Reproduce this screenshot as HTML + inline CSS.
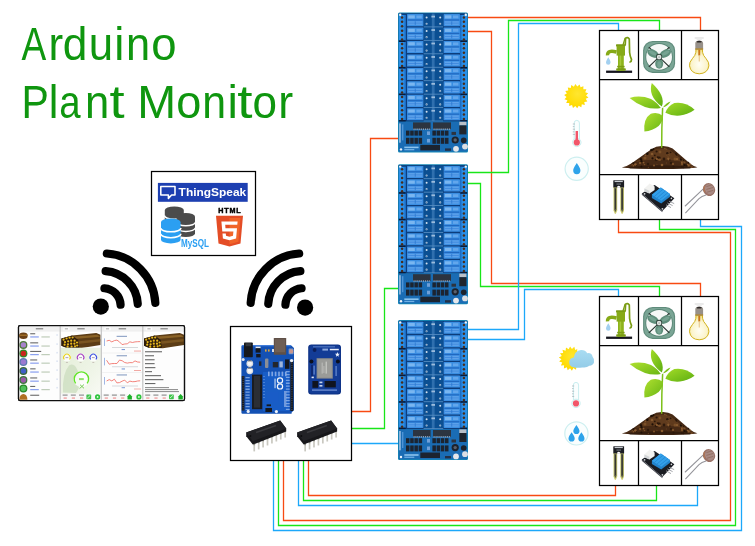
<!DOCTYPE html><html><head><meta charset="utf-8"><title>Arduino Plant Monitor</title><style>html,body{margin:0;padding:0;background:#fff;}body{width:755px;height:546px;overflow:hidden;font-family:"Liberation Sans",sans-serif;}svg{display:block}</style></head><body><svg width="755" height="546" viewBox="0 0 755 546"><defs><radialGradient id="bulbg" cx="0.5" cy="0.62" r="0.6"><stop offset="0" stop-color="#fffef4"/><stop offset="0.65" stop-color="#fbf4cc"/><stop offset="1" stop-color="#f0de7e"/></radialGradient><linearGradient id="leafg" x1="0" y1="0" x2="1" y2="1"><stop offset="0" stop-color="#a4dc28"/><stop offset="1" stop-color="#5cae10"/></linearGradient><linearGradient id="leafg2" x1="0" y1="0" x2="1" y2="1"><stop offset="0" stop-color="#b0e030"/><stop offset="1" stop-color="#68b614"/></linearGradient><radialGradient id="sung" cx="0.55" cy="0.4" r="0.7"><stop offset="0" stop-color="#ffe630"/><stop offset="0.7" stop-color="#ffdc04"/><stop offset="1" stop-color="#f8cc00"/></radialGradient><linearGradient id="cloudg" x1="0" y1="0" x2="0" y2="1"><stop offset="0" stop-color="#a8dcf2"/><stop offset="1" stop-color="#94cce8"/></linearGradient><linearGradient id="pg" x1="0" y1="0" x2="1" y2="1"><stop offset="0" stop-color="#e4eed8"/><stop offset="0.6" stop-color="#eef4e6"/><stop offset="1" stop-color="#f8faf4"/></linearGradient><filter id="soft" x="-2%" y="-2%" width="104%" height="104%"><feGaussianBlur stdDeviation="0.28"/></filter><g id="relay"><rect x="0" y="0" width="70" height="140" rx="1.5" fill="#1688b4"/><rect x="0.8" y="0.9" width="68.4" height="108.4" fill="#0c3d7c"/><rect x="25.6" y="1.2" width="19.6" height="107.6" fill="#0b4f92"/><rect x="33.8" y="1.2" width="2.8" height="107.6" fill="#2f6fae"/><rect x="0.9" y="2.6" width="6.8" height="105" fill="#2a8fe8"/><rect x="6.5" y="2.6" width="1.2" height="105" fill="#1c6cc4"/><rect x="0.9" y="27.9" width="6.8" height="1.7" fill="#081c3c"/><rect x="0.9" y="54.5" width="6.8" height="1.7" fill="#081c3c"/><rect x="0.9" y="81.1" width="6.8" height="1.7" fill="#081c3c"/><rect x="0.9" y="107.7" width="6.8" height="1.7" fill="#081c3c"/><circle cx="4.1000000000000005" cy="5.0" r="1.25" fill="#4a2c1a"/><circle cx="4.1000000000000005" cy="9.4" r="1.25" fill="#4a2c1a"/><circle cx="4.1000000000000005" cy="13.8" r="1.25" fill="#4a2c1a"/><circle cx="4.1000000000000005" cy="18.3" r="1.25" fill="#4a2c1a"/><circle cx="4.1000000000000005" cy="22.7" r="1.25" fill="#4a2c1a"/><circle cx="4.1000000000000005" cy="27.1" r="1.25" fill="#4a2c1a"/><circle cx="4.1000000000000005" cy="31.5" r="1.25" fill="#4a2c1a"/><circle cx="4.1000000000000005" cy="35.9" r="1.25" fill="#4a2c1a"/><circle cx="4.1000000000000005" cy="40.4" r="1.25" fill="#4a2c1a"/><circle cx="4.1000000000000005" cy="44.8" r="1.25" fill="#4a2c1a"/><circle cx="4.1000000000000005" cy="49.2" r="1.25" fill="#4a2c1a"/><circle cx="4.1000000000000005" cy="53.6" r="1.25" fill="#4a2c1a"/><circle cx="4.1000000000000005" cy="58.0" r="1.25" fill="#4a2c1a"/><circle cx="4.1000000000000005" cy="62.5" r="1.25" fill="#4a2c1a"/><circle cx="4.1000000000000005" cy="66.9" r="1.25" fill="#4a2c1a"/><circle cx="4.1000000000000005" cy="71.3" r="1.25" fill="#4a2c1a"/><circle cx="4.1000000000000005" cy="75.7" r="1.25" fill="#4a2c1a"/><circle cx="4.1000000000000005" cy="80.1" r="1.25" fill="#4a2c1a"/><circle cx="4.1000000000000005" cy="84.6" r="1.25" fill="#4a2c1a"/><circle cx="4.1000000000000005" cy="89.0" r="1.25" fill="#4a2c1a"/><circle cx="4.1000000000000005" cy="93.4" r="1.25" fill="#4a2c1a"/><circle cx="4.1000000000000005" cy="97.8" r="1.25" fill="#4a2c1a"/><circle cx="4.1000000000000005" cy="102.2" r="1.25" fill="#4a2c1a"/><circle cx="4.1000000000000005" cy="106.7" r="1.25" fill="#4a2c1a"/><rect x="62.3" y="2.6" width="6.8" height="105" fill="#2a8fe8"/><rect x="62.3" y="2.6" width="1.2" height="105" fill="#1c6cc4"/><rect x="62.3" y="27.9" width="6.8" height="1.7" fill="#081c3c"/><rect x="62.3" y="54.5" width="6.8" height="1.7" fill="#081c3c"/><rect x="62.3" y="81.1" width="6.8" height="1.7" fill="#081c3c"/><rect x="62.3" y="107.7" width="6.8" height="1.7" fill="#081c3c"/><circle cx="65.89999999999999" cy="5.0" r="1.25" fill="#4a2c1a"/><circle cx="65.89999999999999" cy="9.4" r="1.25" fill="#4a2c1a"/><circle cx="65.89999999999999" cy="13.8" r="1.25" fill="#4a2c1a"/><circle cx="65.89999999999999" cy="18.3" r="1.25" fill="#4a2c1a"/><circle cx="65.89999999999999" cy="22.7" r="1.25" fill="#4a2c1a"/><circle cx="65.89999999999999" cy="27.1" r="1.25" fill="#4a2c1a"/><circle cx="65.89999999999999" cy="31.5" r="1.25" fill="#4a2c1a"/><circle cx="65.89999999999999" cy="35.9" r="1.25" fill="#4a2c1a"/><circle cx="65.89999999999999" cy="40.4" r="1.25" fill="#4a2c1a"/><circle cx="65.89999999999999" cy="44.8" r="1.25" fill="#4a2c1a"/><circle cx="65.89999999999999" cy="49.2" r="1.25" fill="#4a2c1a"/><circle cx="65.89999999999999" cy="53.6" r="1.25" fill="#4a2c1a"/><circle cx="65.89999999999999" cy="58.0" r="1.25" fill="#4a2c1a"/><circle cx="65.89999999999999" cy="62.5" r="1.25" fill="#4a2c1a"/><circle cx="65.89999999999999" cy="66.9" r="1.25" fill="#4a2c1a"/><circle cx="65.89999999999999" cy="71.3" r="1.25" fill="#4a2c1a"/><circle cx="65.89999999999999" cy="75.7" r="1.25" fill="#4a2c1a"/><circle cx="65.89999999999999" cy="80.1" r="1.25" fill="#4a2c1a"/><circle cx="65.89999999999999" cy="84.6" r="1.25" fill="#4a2c1a"/><circle cx="65.89999999999999" cy="89.0" r="1.25" fill="#4a2c1a"/><circle cx="65.89999999999999" cy="93.4" r="1.25" fill="#4a2c1a"/><circle cx="65.89999999999999" cy="97.8" r="1.25" fill="#4a2c1a"/><circle cx="65.89999999999999" cy="102.2" r="1.25" fill="#4a2c1a"/><circle cx="65.89999999999999" cy="106.7" r="1.25" fill="#4a2c1a"/><rect x="9" y="1.70" width="16.4" height="12.1" rx="0.6" fill="#3a8ee2"/><rect x="9.6" y="7.00" width="15.2" height="1.2" fill="#2068c0"/><rect x="10.2" y="8.90" width="14" height="3.6" fill="#5ea2ea"/><rect x="10.2" y="10.30" width="14" height="0.8" fill="#3a86dc"/><rect x="10.2" y="2.90" width="6.6" height="3.2" fill="#7ab6f0"/><rect x="18.4" y="3.10" width="5.4" height="2.8" fill="#62a6ec"/><rect x="16.8" y="8.90" width="0.8" height="3.6" fill="#2a78d0"/><rect x="9" y="15.15" width="16.4" height="12.1" rx="0.6" fill="#3a8ee2"/><rect x="9.6" y="20.45" width="15.2" height="1.2" fill="#2068c0"/><rect x="10.2" y="22.35" width="14" height="3.6" fill="#5ea2ea"/><rect x="10.2" y="23.75" width="14" height="0.8" fill="#3a86dc"/><rect x="10.2" y="16.35" width="6.6" height="3.2" fill="#7ab6f0"/><rect x="18.4" y="16.55" width="5.4" height="2.8" fill="#62a6ec"/><rect x="16.8" y="22.35" width="0.8" height="3.6" fill="#2a78d0"/><rect x="9" y="28.60" width="16.4" height="12.1" rx="0.6" fill="#3a8ee2"/><rect x="9.6" y="33.90" width="15.2" height="1.2" fill="#2068c0"/><rect x="10.2" y="35.80" width="14" height="3.6" fill="#5ea2ea"/><rect x="10.2" y="37.20" width="14" height="0.8" fill="#3a86dc"/><rect x="10.2" y="29.80" width="6.6" height="3.2" fill="#7ab6f0"/><rect x="18.4" y="30.00" width="5.4" height="2.8" fill="#62a6ec"/><rect x="16.8" y="35.80" width="0.8" height="3.6" fill="#2a78d0"/><rect x="9" y="42.05" width="16.4" height="12.1" rx="0.6" fill="#3a8ee2"/><rect x="9.6" y="47.35" width="15.2" height="1.2" fill="#2068c0"/><rect x="10.2" y="49.25" width="14" height="3.6" fill="#5ea2ea"/><rect x="10.2" y="50.65" width="14" height="0.8" fill="#3a86dc"/><rect x="10.2" y="43.25" width="6.6" height="3.2" fill="#7ab6f0"/><rect x="18.4" y="43.45" width="5.4" height="2.8" fill="#62a6ec"/><rect x="16.8" y="49.25" width="0.8" height="3.6" fill="#2a78d0"/><rect x="9" y="55.50" width="16.4" height="12.1" rx="0.6" fill="#3a8ee2"/><rect x="9.6" y="60.80" width="15.2" height="1.2" fill="#2068c0"/><rect x="10.2" y="62.70" width="14" height="3.6" fill="#5ea2ea"/><rect x="10.2" y="64.10" width="14" height="0.8" fill="#3a86dc"/><rect x="10.2" y="56.70" width="6.6" height="3.2" fill="#7ab6f0"/><rect x="18.4" y="56.90" width="5.4" height="2.8" fill="#62a6ec"/><rect x="16.8" y="62.70" width="0.8" height="3.6" fill="#2a78d0"/><rect x="9" y="68.95" width="16.4" height="12.1" rx="0.6" fill="#3a8ee2"/><rect x="9.6" y="74.25" width="15.2" height="1.2" fill="#2068c0"/><rect x="10.2" y="76.15" width="14" height="3.6" fill="#5ea2ea"/><rect x="10.2" y="77.55" width="14" height="0.8" fill="#3a86dc"/><rect x="10.2" y="70.15" width="6.6" height="3.2" fill="#7ab6f0"/><rect x="18.4" y="70.35" width="5.4" height="2.8" fill="#62a6ec"/><rect x="16.8" y="76.15" width="0.8" height="3.6" fill="#2a78d0"/><rect x="9" y="82.40" width="16.4" height="12.1" rx="0.6" fill="#3a8ee2"/><rect x="9.6" y="87.70" width="15.2" height="1.2" fill="#2068c0"/><rect x="10.2" y="89.60" width="14" height="3.6" fill="#5ea2ea"/><rect x="10.2" y="91.00" width="14" height="0.8" fill="#3a86dc"/><rect x="10.2" y="83.60" width="6.6" height="3.2" fill="#7ab6f0"/><rect x="18.4" y="83.80" width="5.4" height="2.8" fill="#62a6ec"/><rect x="16.8" y="89.60" width="0.8" height="3.6" fill="#2a78d0"/><rect x="9" y="95.85" width="16.4" height="12.1" rx="0.6" fill="#3a8ee2"/><rect x="9.6" y="101.15" width="15.2" height="1.2" fill="#2068c0"/><rect x="10.2" y="103.05" width="14" height="3.6" fill="#5ea2ea"/><rect x="10.2" y="104.45" width="14" height="0.8" fill="#3a86dc"/><rect x="10.2" y="97.05" width="6.6" height="3.2" fill="#7ab6f0"/><rect x="18.4" y="97.25" width="5.4" height="2.8" fill="#62a6ec"/><rect x="16.8" y="103.05" width="0.8" height="3.6" fill="#2a78d0"/><rect x="45.6" y="1.70" width="16.4" height="12.1" rx="0.6" fill="#3a8ee2"/><rect x="46.2" y="7.00" width="15.2" height="1.2" fill="#2068c0"/><rect x="46.800000000000004" y="8.90" width="14" height="3.6" fill="#5ea2ea"/><rect x="46.800000000000004" y="10.30" width="14" height="0.8" fill="#3a86dc"/><rect x="46.800000000000004" y="2.90" width="6.6" height="3.2" fill="#7ab6f0"/><rect x="55.0" y="3.10" width="5.4" height="2.8" fill="#62a6ec"/><rect x="53.4" y="8.90" width="0.8" height="3.6" fill="#2a78d0"/><rect x="45.6" y="15.15" width="16.4" height="12.1" rx="0.6" fill="#3a8ee2"/><rect x="46.2" y="20.45" width="15.2" height="1.2" fill="#2068c0"/><rect x="46.800000000000004" y="22.35" width="14" height="3.6" fill="#5ea2ea"/><rect x="46.800000000000004" y="23.75" width="14" height="0.8" fill="#3a86dc"/><rect x="46.800000000000004" y="16.35" width="6.6" height="3.2" fill="#7ab6f0"/><rect x="55.0" y="16.55" width="5.4" height="2.8" fill="#62a6ec"/><rect x="53.4" y="22.35" width="0.8" height="3.6" fill="#2a78d0"/><rect x="45.6" y="28.60" width="16.4" height="12.1" rx="0.6" fill="#3a8ee2"/><rect x="46.2" y="33.90" width="15.2" height="1.2" fill="#2068c0"/><rect x="46.800000000000004" y="35.80" width="14" height="3.6" fill="#5ea2ea"/><rect x="46.800000000000004" y="37.20" width="14" height="0.8" fill="#3a86dc"/><rect x="46.800000000000004" y="29.80" width="6.6" height="3.2" fill="#7ab6f0"/><rect x="55.0" y="30.00" width="5.4" height="2.8" fill="#62a6ec"/><rect x="53.4" y="35.80" width="0.8" height="3.6" fill="#2a78d0"/><rect x="45.6" y="42.05" width="16.4" height="12.1" rx="0.6" fill="#3a8ee2"/><rect x="46.2" y="47.35" width="15.2" height="1.2" fill="#2068c0"/><rect x="46.800000000000004" y="49.25" width="14" height="3.6" fill="#5ea2ea"/><rect x="46.800000000000004" y="50.65" width="14" height="0.8" fill="#3a86dc"/><rect x="46.800000000000004" y="43.25" width="6.6" height="3.2" fill="#7ab6f0"/><rect x="55.0" y="43.45" width="5.4" height="2.8" fill="#62a6ec"/><rect x="53.4" y="49.25" width="0.8" height="3.6" fill="#2a78d0"/><rect x="45.6" y="55.50" width="16.4" height="12.1" rx="0.6" fill="#3a8ee2"/><rect x="46.2" y="60.80" width="15.2" height="1.2" fill="#2068c0"/><rect x="46.800000000000004" y="62.70" width="14" height="3.6" fill="#5ea2ea"/><rect x="46.800000000000004" y="64.10" width="14" height="0.8" fill="#3a86dc"/><rect x="46.800000000000004" y="56.70" width="6.6" height="3.2" fill="#7ab6f0"/><rect x="55.0" y="56.90" width="5.4" height="2.8" fill="#62a6ec"/><rect x="53.4" y="62.70" width="0.8" height="3.6" fill="#2a78d0"/><rect x="45.6" y="68.95" width="16.4" height="12.1" rx="0.6" fill="#3a8ee2"/><rect x="46.2" y="74.25" width="15.2" height="1.2" fill="#2068c0"/><rect x="46.800000000000004" y="76.15" width="14" height="3.6" fill="#5ea2ea"/><rect x="46.800000000000004" y="77.55" width="14" height="0.8" fill="#3a86dc"/><rect x="46.800000000000004" y="70.15" width="6.6" height="3.2" fill="#7ab6f0"/><rect x="55.0" y="70.35" width="5.4" height="2.8" fill="#62a6ec"/><rect x="53.4" y="76.15" width="0.8" height="3.6" fill="#2a78d0"/><rect x="45.6" y="82.40" width="16.4" height="12.1" rx="0.6" fill="#3a8ee2"/><rect x="46.2" y="87.70" width="15.2" height="1.2" fill="#2068c0"/><rect x="46.800000000000004" y="89.60" width="14" height="3.6" fill="#5ea2ea"/><rect x="46.800000000000004" y="91.00" width="14" height="0.8" fill="#3a86dc"/><rect x="46.800000000000004" y="83.60" width="6.6" height="3.2" fill="#7ab6f0"/><rect x="55.0" y="83.80" width="5.4" height="2.8" fill="#62a6ec"/><rect x="53.4" y="89.60" width="0.8" height="3.6" fill="#2a78d0"/><rect x="45.6" y="95.85" width="16.4" height="12.1" rx="0.6" fill="#3a8ee2"/><rect x="46.2" y="101.15" width="15.2" height="1.2" fill="#2068c0"/><rect x="46.800000000000004" y="103.05" width="14" height="3.6" fill="#5ea2ea"/><rect x="46.800000000000004" y="104.45" width="14" height="0.8" fill="#3a86dc"/><rect x="46.800000000000004" y="97.05" width="6.6" height="3.2" fill="#7ab6f0"/><rect x="55.0" y="97.25" width="5.4" height="2.8" fill="#62a6ec"/><rect x="53.4" y="103.05" width="0.8" height="3.6" fill="#2a78d0"/><rect x="25.6" y="14.10" width="19.6" height="0.8" fill="#5a90c4"/><circle cx="28.6" cy="5.10" r="1" fill="#d4e0ee"/><circle cx="28.6" cy="11.30" r="1.05" fill="#b4c8de"/><circle cx="28.6" cy="11.60" r="0.6" fill="#6a88a8"/><circle cx="42.2" cy="5.10" r="1" fill="#d4e0ee"/><circle cx="42.2" cy="11.30" r="1.05" fill="#b4c8de"/><circle cx="42.2" cy="11.60" r="0.6" fill="#6a88a8"/><rect x="33.4" y="3.30" width="3.6" height="1.8" fill="#9cbcdc"/><rect x="25.6" y="27.55" width="19.6" height="0.8" fill="#5a90c4"/><circle cx="28.6" cy="18.55" r="1" fill="#d4e0ee"/><circle cx="28.6" cy="24.75" r="1.05" fill="#b4c8de"/><circle cx="28.6" cy="25.05" r="0.6" fill="#6a88a8"/><circle cx="42.2" cy="18.55" r="1" fill="#d4e0ee"/><circle cx="42.2" cy="24.75" r="1.05" fill="#b4c8de"/><circle cx="42.2" cy="25.05" r="0.6" fill="#6a88a8"/><rect x="33.4" y="16.75" width="3.6" height="1.8" fill="#9cbcdc"/><rect x="25.6" y="41.00" width="19.6" height="0.8" fill="#5a90c4"/><circle cx="28.6" cy="32.00" r="1" fill="#d4e0ee"/><circle cx="28.6" cy="38.20" r="1.05" fill="#b4c8de"/><circle cx="28.6" cy="38.50" r="0.6" fill="#6a88a8"/><circle cx="42.2" cy="32.00" r="1" fill="#d4e0ee"/><circle cx="42.2" cy="38.20" r="1.05" fill="#b4c8de"/><circle cx="42.2" cy="38.50" r="0.6" fill="#6a88a8"/><rect x="33.4" y="30.20" width="3.6" height="1.8" fill="#9cbcdc"/><rect x="25.6" y="54.45" width="19.6" height="0.8" fill="#5a90c4"/><circle cx="28.6" cy="45.45" r="1" fill="#d4e0ee"/><circle cx="28.6" cy="51.65" r="1.05" fill="#b4c8de"/><circle cx="28.6" cy="51.95" r="0.6" fill="#6a88a8"/><circle cx="42.2" cy="45.45" r="1" fill="#d4e0ee"/><circle cx="42.2" cy="51.65" r="1.05" fill="#b4c8de"/><circle cx="42.2" cy="51.95" r="0.6" fill="#6a88a8"/><rect x="33.4" y="43.65" width="3.6" height="1.8" fill="#9cbcdc"/><rect x="25.6" y="67.90" width="19.6" height="0.8" fill="#5a90c4"/><circle cx="28.6" cy="58.90" r="1" fill="#d4e0ee"/><circle cx="28.6" cy="65.10" r="1.05" fill="#b4c8de"/><circle cx="28.6" cy="65.40" r="0.6" fill="#6a88a8"/><circle cx="42.2" cy="58.90" r="1" fill="#d4e0ee"/><circle cx="42.2" cy="65.10" r="1.05" fill="#b4c8de"/><circle cx="42.2" cy="65.40" r="0.6" fill="#6a88a8"/><rect x="33.4" y="57.10" width="3.6" height="1.8" fill="#9cbcdc"/><rect x="25.6" y="81.35" width="19.6" height="0.8" fill="#5a90c4"/><circle cx="28.6" cy="72.35" r="1" fill="#d4e0ee"/><circle cx="28.6" cy="78.55" r="1.05" fill="#b4c8de"/><circle cx="28.6" cy="78.85" r="0.6" fill="#6a88a8"/><circle cx="42.2" cy="72.35" r="1" fill="#d4e0ee"/><circle cx="42.2" cy="78.55" r="1.05" fill="#b4c8de"/><circle cx="42.2" cy="78.85" r="0.6" fill="#6a88a8"/><rect x="33.4" y="70.55" width="3.6" height="1.8" fill="#9cbcdc"/><rect x="25.6" y="94.80" width="19.6" height="0.8" fill="#5a90c4"/><circle cx="28.6" cy="85.80" r="1" fill="#d4e0ee"/><circle cx="28.6" cy="92.00" r="1.05" fill="#b4c8de"/><circle cx="28.6" cy="92.30" r="0.6" fill="#6a88a8"/><circle cx="42.2" cy="85.80" r="1" fill="#d4e0ee"/><circle cx="42.2" cy="92.00" r="1.05" fill="#b4c8de"/><circle cx="42.2" cy="92.30" r="0.6" fill="#6a88a8"/><rect x="33.4" y="84.00" width="3.6" height="1.8" fill="#9cbcdc"/><rect x="25.6" y="108.25" width="19.6" height="0.8" fill="#5a90c4"/><circle cx="28.6" cy="99.25" r="1" fill="#d4e0ee"/><circle cx="28.6" cy="105.45" r="1.05" fill="#b4c8de"/><circle cx="28.6" cy="105.75" r="0.6" fill="#6a88a8"/><circle cx="42.2" cy="99.25" r="1" fill="#d4e0ee"/><circle cx="42.2" cy="105.45" r="1.05" fill="#b4c8de"/><circle cx="42.2" cy="105.75" r="0.6" fill="#6a88a8"/><rect x="33.4" y="97.45" width="3.6" height="1.8" fill="#9cbcdc"/><rect x="0.8" y="109.2" width="68.4" height="30" fill="#1a6cb4"/><rect x="15" y="110" width="17.6" height="6.8" fill="#2c3440"/><rect x="35" y="110" width="18" height="6.8" fill="#2c3440"/><rect x="15.6" y="116" width="0.9" height="1.6" fill="#9aa7b8"/><rect x="35.6" y="116" width="0.9" height="1.6" fill="#9aa7b8"/><rect x="17.5" y="116" width="0.9" height="1.6" fill="#9aa7b8"/><rect x="37.6" y="116" width="0.9" height="1.6" fill="#9aa7b8"/><rect x="19.4" y="116" width="0.9" height="1.6" fill="#9aa7b8"/><rect x="39.5" y="116" width="0.9" height="1.6" fill="#9aa7b8"/><rect x="21.3" y="116" width="0.9" height="1.6" fill="#9aa7b8"/><rect x="41.5" y="116" width="0.9" height="1.6" fill="#9aa7b8"/><rect x="23.2" y="116" width="0.9" height="1.6" fill="#9aa7b8"/><rect x="43.4" y="116" width="0.9" height="1.6" fill="#9aa7b8"/><rect x="25.1" y="116" width="0.9" height="1.6" fill="#9aa7b8"/><rect x="45.4" y="116" width="0.9" height="1.6" fill="#9aa7b8"/><rect x="27.0" y="116" width="0.9" height="1.6" fill="#9aa7b8"/><rect x="47.3" y="116" width="0.9" height="1.6" fill="#9aa7b8"/><rect x="28.9" y="116" width="0.9" height="1.6" fill="#9aa7b8"/><rect x="49.2" y="116" width="0.9" height="1.6" fill="#9aa7b8"/><rect x="30.8" y="116" width="0.9" height="1.6" fill="#9aa7b8"/><rect x="51.2" y="116" width="0.9" height="1.6" fill="#9aa7b8"/><rect x="8.0" y="118.2" width="3.5" height="5" fill="#1c2430"/><rect x="8.0" y="125.4" width="3.5" height="6" fill="#1c2430"/><rect x="12.2" y="118.2" width="3.5" height="5" fill="#1c2430"/><rect x="12.2" y="125.4" width="3.5" height="6" fill="#1c2430"/><rect x="16.4" y="118.2" width="3.5" height="5" fill="#1c2430"/><rect x="16.4" y="125.4" width="3.5" height="6" fill="#1c2430"/><rect x="20.6" y="118.2" width="3.5" height="5" fill="#1c2430"/><rect x="20.6" y="125.4" width="3.5" height="6" fill="#1c2430"/><rect x="34.4" y="118.2" width="3.5" height="5" fill="#1c2430"/><rect x="34.4" y="125.4" width="3.5" height="6" fill="#1c2430"/><rect x="38.6" y="118.2" width="3.5" height="5" fill="#1c2430"/><rect x="38.6" y="125.4" width="3.5" height="6" fill="#1c2430"/><rect x="42.8" y="118.2" width="3.5" height="5" fill="#1c2430"/><rect x="42.8" y="125.4" width="3.5" height="6" fill="#1c2430"/><rect x="47.0" y="118.2" width="3.5" height="5" fill="#1c2430"/><rect x="47.0" y="125.4" width="3.5" height="6" fill="#1c2430"/><rect x="29" y="119" width="3" height="3.6" fill="#6fa0d8"/><rect x="29" y="126.5" width="3" height="3.6" fill="#6fa0d8"/><rect x="22.3" y="132.5" width="19.7" height="5.5" fill="#1c2430"/><rect x="6.3" y="134.2" width="14.3" height="1.6" fill="#8cc4ee"/><rect x="6.3" y="136.6" width="10" height="1.3" fill="#6fb0e4"/><rect x="1.2" y="111" width="1.5" height="19.3" fill="#bcd6ee" opacity="0.85"/><rect x="4" y="112" width="1.4" height="16" fill="#4f94d6"/><rect x="61.3" y="109.4" width="7.1" height="3.6" fill="#b9c0c8"/><rect x="61.3" y="113" width="7.1" height="9" fill="#20262e"/><rect x="53.5" y="119.5" width="4.5" height="3" fill="#2c3440"/><circle cx="57.2" cy="127.6" r="3.6" fill="#1d222b"/><circle cx="57.2" cy="127.6" r="1.7" fill="#59606c"/><circle cx="65.7" cy="128" r="2.8" fill="#1d222b"/><circle cx="58" cy="136.4" r="2.9" fill="#e4e6ea"/><circle cx="67" cy="134.2" r="2.9" fill="#dcdfe4"/><rect x="47" y="136" width="6" height="2.4" fill="#243046"/><circle cx="3" cy="137" r="1.2" fill="#eef4fa"/><circle cx="2.2" cy="2.4" r="1.2" fill="#eef4fa"/><circle cx="67.8" cy="2.4" r="1.2" fill="#eef4fa"/></g><g id="pbox"><rect x="599.5" y="30.5" width="119" height="189" fill="#fff" stroke="#000" stroke-width="1.25"/><path d="M599.5 79.5H718.5M599.5 174.5H718.5M638.5 30.5V79.5M681.5 30.5V79.5M638.5 174.5V219.5M681.5 174.5V219.5" stroke="#000" stroke-width="1.25" fill="none"/><g><rect x="606.1" y="70.6" width="26" height="2.3" fill="#15151d"/><path d="M625.2 45 L625.6 38.2 Q627.5 36.6 629.3 39 L629.6 52.5 Q630 56.5 631.5 59.5 Q631.6 61.5 630 62" fill="none" stroke="#7a9c14" stroke-width="1.7" stroke-linecap="round"/><path d="M623 45 L625 38.4" fill="none" stroke="#7a9c14" stroke-width="1.3" stroke-linecap="round"/><path d="M616.5 52 Q607.3 49.5 607.5 55.4" fill="none" stroke="#86aa18" stroke-width="3.4" stroke-linecap="butt"/><rect x="618" y="45" width="5.8" height="25.6" fill="#8db31c"/><rect x="619.6" y="45" width="1.6" height="25.6" fill="#a6c83a"/><rect x="616" y="44.2" width="9.4" height="2.2" rx="0.6" fill="#7a9c14"/><rect x="616.6" y="46" width="8.4" height="9.6" fill="#86aa18"/><rect x="617.2" y="65.8" width="7.4" height="1.6" fill="#7a9c14"/><rect x="616.2" y="68.2" width="9.6" height="2.6" rx="0.8" fill="#7a9c14"/><path d="M608.3 57.2 Q610.8 61.2 610.5 62.6 A2.25 2.25 0 0 1 606 62.6 Q605.9 61.2 608.3 57.2Z" fill="#a3d0f0"/></g><g><rect x="643.1" y="40.9" width="32" height="32" rx="9.5" fill="#5f8b7b"/><rect x="644.2" y="42" width="29.8" height="29.8" rx="8.6" fill="#7aa595"/><circle cx="659.1" cy="56.9" r="13.8" fill="#5b8777"/><circle cx="659.1" cy="56.9" r="12.9" fill="#f6f8f7"/><path d="M648.8 47.2 L669.4 66.8 M669.4 47.2 L648.8 66.8" stroke="#27322e" stroke-width="1.15"/><ellipse cx="653" cy="53.5" rx="6.2" ry="3.7" fill="#5f8f7c" transform="rotate(28 653 53.5)"/><ellipse cx="665.3" cy="53.5" rx="6.2" ry="3.7" fill="#5f8f7c" transform="rotate(-28 665.3 53.5)"/><ellipse cx="659.2" cy="63.8" rx="4" ry="5" fill="#5f8f7c"/><ellipse cx="652.6" cy="53" rx="4" ry="1.6" fill="#76a392" transform="rotate(28 652.6 53)"/><ellipse cx="665.7" cy="53" rx="4" ry="1.6" fill="#76a392" transform="rotate(-28 665.7 53)"/><ellipse cx="659.2" cy="64.4" rx="2" ry="3.2" fill="#76a392"/><circle cx="659.1" cy="56.9" r="3.1" fill="#33453e"/><circle cx="659.1" cy="57.1" r="2.3" fill="#dfe4e1"/><circle cx="659.1" cy="57.1" r="0.9" fill="#a9b5b0"/></g><g><path d="M696 49 L695.8 52.4 Q695.4 55.4 692.4 58.6 Q689 62.4 689.5 65.8 Q690.6 73.4 699.2 73.8 Q707.8 73.4 708.9 65.8 Q709.4 62.4 706 58.6 Q703 55.4 702.6 52.4 L702.4 49Z" fill="url(#bulbg)" stroke="#d2b21e" stroke-width="1"/><rect x="698.3" y="49.5" width="1.9" height="6" fill="#c8761c"/><rect x="698.7" y="55.5" width="1.1" height="6" fill="#e8c98a"/><path d="M695.3 43 Q695.6 40.8 699.2 40.6 Q702.8 40.8 703.1 43 L703.1 49.4 L695.3 49.4Z" fill="#979089"/><path d="M696.6 41.6 Q699.2 39.8 701.8 41.6 L701.2 42.6 L697.2 42.6Z" fill="#2c2826"/><rect x="695.3" y="48.4" width="7.8" height="1.2" fill="#b58a2a"/><rect x="694.5" y="37.2" width="9.4" height="1.5" rx="0.7" fill="#e4e4e4"/><rect x="696.6" y="38.7" width="5.2" height="1.4" fill="#ededed"/></g><g><path d="M621.8 167.6 Q627 166.4 632 163 L651 149.4 Q656 146 661.6 146 Q668 145.6 672.6 148.6 L690 163.4 Q693.4 166.2 697.4 167.2 Q690 169 659 169 Q630 169 621.8 167.6Z" fill="#472a15"/><path d="M636 162 L653 150 Q661 147.2 670 150 L686 163 Q672 159 660 160 Q646 159 636 162Z" fill="#66401f" opacity="0.8"/><path d="M628 167 Q660 163.5 692 167 L690 168.6 L630 168.6Z" fill="#2e1a0c" opacity="0.8"/><circle cx="645" cy="158" r="1.5" fill="#7a5028"/><circle cx="652" cy="154" r="1.3" fill="#85592e"/><circle cx="660" cy="152" r="1.4" fill="#7a5028"/><circle cx="668" cy="155" r="1.4" fill="#85592e"/><circle cx="675" cy="159" r="1.5" fill="#7a5028"/><circle cx="656" cy="160" r="1.3" fill="#2e1a0c"/><circle cx="664" cy="159" r="1.4" fill="#2e1a0c"/><circle cx="671" cy="163" r="1.2" fill="#2e1a0c"/><circle cx="648" cy="164" r="1.2" fill="#2e1a0c"/><circle cx="640" cy="163" r="1.2" fill="#7a5028"/><circle cx="682" cy="164" r="1.2" fill="#7a5028"/><circle cx="662" cy="165" r="1.3" fill="#85592e"/><circle cx="654" cy="165.5" r="1.1" fill="#7a5028"/><circle cx="657.0" cy="158.7" r="1.2" fill="#8a5c30"/><circle cx="656.9" cy="164.5" r="0.7" fill="#5e3a1c"/><circle cx="658.4" cy="159.8" r="0.7" fill="#8a5c30"/><circle cx="647.4" cy="153.8" r="1.2" fill="#1e1006"/><circle cx="668.6" cy="159.4" r="0.9" fill="#8a5c30"/><circle cx="669.9" cy="159.9" r="0.7" fill="#2a170a"/><circle cx="681.2" cy="157.5" r="0.6" fill="#2a170a"/><circle cx="666.4" cy="163.0" r="0.8" fill="#5e3a1c"/><circle cx="681.9" cy="162.6" r="1.0" fill="#8a5c30"/><circle cx="633.4" cy="166.0" r="0.9" fill="#5e3a1c"/><circle cx="691.7" cy="167.0" r="1.1" fill="#7a4f28"/><circle cx="676.5" cy="160.5" r="0.6" fill="#5e3a1c"/><circle cx="677.0" cy="159.1" r="1.2" fill="#8a5c30"/><circle cx="632.3" cy="164.3" r="1.1" fill="#2a170a"/><circle cx="641.4" cy="166.5" r="0.9" fill="#1e1006"/><circle cx="653.4" cy="149.2" r="1.0" fill="#1e1006"/><circle cx="645.3" cy="155.3" r="0.8" fill="#8a5c30"/><circle cx="676.5" cy="154.9" r="0.8" fill="#2a170a"/><circle cx="657.8" cy="157.3" r="1.1" fill="#2a170a"/><circle cx="656.6" cy="151.5" r="1.1" fill="#2a170a"/><circle cx="654.8" cy="155.3" r="0.9" fill="#2a170a"/><circle cx="683.3" cy="167.2" r="1.0" fill="#2a170a"/><circle cx="641.5" cy="161.1" r="1.2" fill="#1e1006"/><circle cx="664.9" cy="148.5" r="0.7" fill="#8a5c30"/><circle cx="644.5" cy="164.5" r="0.8" fill="#7a4f28"/><circle cx="652.7" cy="149.7" r="0.7" fill="#1e1006"/><circle cx="643.6" cy="162.6" r="0.9" fill="#8a5c30"/><circle cx="636.1" cy="164.9" r="1.2" fill="#2a170a"/><circle cx="683.5" cy="160.2" r="0.7" fill="#2a170a"/><circle cx="680.3" cy="159.0" r="0.7" fill="#1e1006"/><circle cx="668.3" cy="158.6" r="1.1" fill="#8a5c30"/><circle cx="684.5" cy="164.2" r="0.9" fill="#2a170a"/><circle cx="635.0" cy="164.8" r="0.8" fill="#1e1006"/><circle cx="673.1" cy="154.8" r="1.2" fill="#5e3a1c"/><circle cx="659.4" cy="157.9" r="1.3" fill="#2a170a"/><circle cx="636.1" cy="164.2" r="1.1" fill="#5e3a1c"/><circle cx="667.3" cy="153.2" r="1.2" fill="#2a170a"/><circle cx="675.9" cy="153.7" r="0.9" fill="#2a170a"/><circle cx="631.9" cy="165.1" r="0.9" fill="#5e3a1c"/><circle cx="690.3" cy="164.2" r="0.7" fill="#8a5c30"/><circle cx="690.8" cy="166.3" r="1.1" fill="#5e3a1c"/><circle cx="688.6" cy="165.4" r="1.2" fill="#8a5c30"/><circle cx="686.3" cy="165.4" r="1.3" fill="#2a170a"/><circle cx="666.3" cy="149.2" r="0.6" fill="#7a4f28"/><circle cx="648.4" cy="167.4" r="0.7" fill="#5e3a1c"/><circle cx="651.5" cy="150.0" r="1.3" fill="#1e1006"/><circle cx="673.0" cy="163.9" r="1.2" fill="#7a4f28"/><circle cx="633.4" cy="165.3" r="0.7" fill="#8a5c30"/><circle cx="688.4" cy="162.6" r="0.9" fill="#2a170a"/><circle cx="668.0" cy="155.2" r="1.0" fill="#5e3a1c"/><circle cx="632.6" cy="164.3" r="0.7" fill="#7a4f28"/><circle cx="684.3" cy="165.2" r="0.9" fill="#1e1006"/><circle cx="672.4" cy="158.0" r="0.9" fill="#5e3a1c"/><circle cx="633.4" cy="166.4" r="0.6" fill="#5e3a1c"/><circle cx="633.6" cy="163.3" r="1.3" fill="#2a170a"/><circle cx="659.8" cy="159.8" r="1.2" fill="#7a4f28"/><circle cx="685.4" cy="162.8" r="0.7" fill="#5e3a1c"/><circle cx="641.0" cy="159.2" r="1.2" fill="#1e1006"/><circle cx="687.5" cy="164.6" r="0.8" fill="#8a5c30"/><circle cx="670.6" cy="152.3" r="0.9" fill="#2a170a"/><circle cx="684.3" cy="162.4" r="1.0" fill="#7a4f28"/><circle cx="641.4" cy="158.5" r="0.8" fill="#2a170a"/><circle cx="673.5" cy="166.6" r="0.8" fill="#2a170a"/><circle cx="635.2" cy="164.5" r="1.2" fill="#8a5c30"/><circle cx="652.5" cy="158.3" r="1.1" fill="#1e1006"/><circle cx="681.7" cy="167.2" r="0.9" fill="#2a170a"/><circle cx="681.0" cy="159.7" r="1.0" fill="#1e1006"/><path d="M661.7 147.2 Q661.6 128 662.6 108.5" fill="none" stroke="#7cc018" stroke-width="1.5" stroke-linecap="round"/><path d="M651.8 83 Q647.6 96 661.8 106.6 Q666 96 651.8 83Z" fill="url(#leafg)"/><path d="M629.6 98 Q640 94.6 651 99 Q657.6 102.8 660.8 108 Q653 109.6 645 107 Q636 103.6 629.6 98Z" fill="url(#leafg2)"/><path d="M694.6 109.8 Q686 101.4 674.4 103 Q667.6 106 665.4 112.8 Q672 116.4 680 115.6 Q688 114.6 694.6 109.8Z" fill="url(#leafg)"/><path d="M644.4 131.6 Q643.2 118.6 650.8 113.8 Q657.6 111.4 663 116 Q663 121.4 658.6 126 Q652.6 130.8 644.4 131.6Z" fill="url(#leafg2)"/><path d="M670.6 101.6 Q666.6 102.6 662.8 107.4 Q667.4 106.8 670.6 101.6Z" fill="#7cc018"/></g><g><path d="M613.5 187 H617.2 V210.4 L615.9 213.8 H614.8 L613.5 210.4Z" fill="#c9c96e"/><path d="M614.3 188 H616.4 V209.6 L615.35 212.2 L614.3 209.6Z" fill="#55564a"/><rect x="615.0" y="189" width="0.8" height="20" fill="#2e2f2a"/><path d="M620.3 187 H624.0 V210.4 L622.6999999999999 213.8 H621.5999999999999 L620.3 210.4Z" fill="#c9c96e"/><path d="M621.0999999999999 188 H623.1999999999999 V209.6 L622.15 212.2 L621.0999999999999 209.6Z" fill="#55564a"/><rect x="621.8" y="189" width="0.8" height="20" fill="#2e2f2a"/><rect x="613.3" y="180.2" width="10.8" height="7.4" rx="0.5" fill="#1b1d22"/><rect x="614.6" y="180.8" width="8.2" height="1.3" fill="#c8ccd2"/><rect x="616.4" y="183.6" width="4.6" height="0.9" fill="#8a8f98"/><path d="M617.2 187.8 V186.4 Q618.7 185 620.2 186.4 V187.8Z" fill="#fff"/></g><g><path d="M641.8 193.6 L654.6 185 L674.4 198.2 L662.4 211Z" fill="#1a1c22"/><path d="M641.8 193.6 L662.4 211 L662.4 212.2 L641.8 194.8Z" fill="#3a3d46"/><path d="M644.4 188.4 L649.6 183.4 L654.6 186.6 L654.6 190 L649.4 193.6 L644.4 191.2Z" fill="#f2f2f0"/><path d="M644.4 188.4 L649.4 190.8 L649.4 193.6 L644.4 191.2Z" fill="#d2d5d7"/><path d="M651.9 194.8 L660.8 187.5 L670 194 L670 196.8 L661.2 203.6 L651.9 198Z" fill="#2384cc"/><path d="M651.9 194.8 L660.8 187.5 L670 194 L661.2 200.8Z" fill="#33a0ea"/><path d="M654.4 196.4 L663 189.2 M657 198 L665.6 190.8 M659.4 199.6 L668 192.6" stroke="#1f7cc6" stroke-width="0.6"/><path d="M667.4 203 L672.6 205.6 M669 201.2 L674.2 203.6 M666 204.8 L671 207.6" stroke="#9a9ca2" stroke-width="0.9"/><circle cx="644.6" cy="193.8" r="0.9" fill="#d8dadc"/><circle cx="662.4" cy="208.8" r="0.9" fill="#d8dadc"/><circle cx="671.4" cy="198.4" r="0.8" fill="#d8dadc"/></g><g><path d="M703.6 188.6 L685.2 206 M706 195 Q701.6 196.2 699 198.6 L685.6 212.8" stroke="#94949a" stroke-width="1.05" fill="none" stroke-linecap="round"/><ellipse cx="709" cy="189.5" rx="6" ry="6.7" fill="#9a7267" transform="rotate(-25 709 189.5)"/><ellipse cx="709.6" cy="189.2" rx="4.5" ry="5.3" fill="#a98a84" transform="rotate(-25 709.6 189.2)"/><path d="M706.4 186.6 L712.2 184.8 M706.4 189.4 L713.4 187.4 M707 192.2 L713.2 190.4" stroke="#8a6558" stroke-width="0.7"/><path d="M704.4 186 Q703.6 189 704.6 192" stroke="#c07a48" stroke-width="0.7" fill="none"/></g></g></defs><path d="M351.5 411.5 L370.5 411.5 L370.5 138.5 L398 138.5" fill="none" stroke="#f84a12" stroke-width="1.3" stroke-linejoin="miter"/><path d="M351.5 428.5 L384.5 428.5 L384.5 288.5 L398 288.5" fill="none" stroke="#18e618" stroke-width="1.3" stroke-linejoin="miter"/><path d="M351.5 443.5 L398 443.5" fill="none" stroke="#1ca8fa" stroke-width="1.3" stroke-linejoin="miter"/><path d="M468 17.5 L700.5 17.5 L700.5 30.5" fill="none" stroke="#f84a12" stroke-width="1.3" stroke-linejoin="miter"/><path d="M468 31.5 L491.5 31.5 L491.5 283.5 L700.5 283.5 L700.5 296.5" fill="none" stroke="#f84a12" stroke-width="1.3" stroke-linejoin="miter"/><path d="M468 172.5 L508.5 172.5 L508.5 20.5 L659.5 20.5 L659.5 30.5" fill="none" stroke="#18e618" stroke-width="1.3" stroke-linejoin="miter"/><path d="M468 183.5 L480.5 183.5 L480.5 286.5 L659.5 286.5 L659.5 296.5" fill="none" stroke="#18e618" stroke-width="1.3" stroke-linejoin="miter"/><path d="M468 329.5 L518.5 329.5 L518.5 23.5 L618.5 23.5 L618.5 30.5" fill="none" stroke="#1ca8fa" stroke-width="1.3" stroke-linejoin="miter"/><path d="M468 339.5 L524.5 339.5 L524.5 289.5 L618.5 289.5 L618.5 296.5" fill="none" stroke="#1ca8fa" stroke-width="1.3" stroke-linejoin="miter"/><path d="M618.5 219.5 L618.5 232.5 L730.5 232.5 L730.5 520.5 L283.5 520.5 L283.5 460.5" fill="none" stroke="#f84a12" stroke-width="1.3" stroke-linejoin="miter"/><path d="M659.5 219.5 L659.5 229.5 L735.5 229.5 L735.5 525.5 L278.5 525.5 L278.5 460.5" fill="none" stroke="#18e618" stroke-width="1.3" stroke-linejoin="miter"/><path d="M700.5 219.5 L700.5 226.5 L741.5 226.5 L741.5 530.5 L273.5 530.5 L273.5 460.5" fill="none" stroke="#1ca8fa" stroke-width="1.3" stroke-linejoin="miter"/><path d="M615.5 485.5 L615.5 495.5 L308.5 495.5 L308.5 460.5" fill="none" stroke="#f84a12" stroke-width="1.3" stroke-linejoin="miter"/><path d="M656.5 485.5 L656.5 500.5 L303.5 500.5 L303.5 460.5" fill="none" stroke="#18e618" stroke-width="1.3" stroke-linejoin="miter"/><path d="M697.5 485.5 L697.5 505.5 L298.5 505.5 L298.5 460.5" fill="none" stroke="#1ca8fa" stroke-width="1.3" stroke-linejoin="miter"/><use href="#relay" x="398" y="12.4"/><use href="#relay" x="398" y="164.2"/><use href="#relay" x="398" y="320"/><use href="#pbox"/><use href="#pbox" y="266"/><polygon points="588.44,97.42 585.73,98.86 587.29,101.50 584.26,101.92 584.82,104.94 581.82,104.30 581.31,107.32 578.72,105.70 577.21,108.37 575.32,105.95 572.99,107.94 572.05,105.03 569.18,106.10 569.28,103.04 566.22,103.07 567.37,100.23 564.48,99.21 566.53,96.93 564.16,94.98 566.87,93.54 565.31,90.90 568.34,90.48 567.78,87.46 570.78,88.10 571.29,85.08 573.88,86.70 575.39,84.03 577.28,86.45 579.61,84.46 580.55,87.37 583.42,86.30 583.32,89.36 586.38,89.33 585.23,92.17 588.12,93.19 586.07,95.47" fill="url(#sung)"/><rect x="574.1999999999999" y="120.4" width="5.2" height="22.0" rx="2.6" fill="#fafefe" stroke="#c9eef0" stroke-width="1"/><circle cx="576.8" cy="142.4" r="4.2" fill="#fafefe" stroke="#c9eef0" stroke-width="1"/><circle cx="576.8" cy="142.4" r="3.1" fill="#f2566a"/><rect x="575.6" y="131" width="2.4" height="11.400000000000006" fill="#f2566a"/><path d="M572.8 124H575M572.8 126.6H574.4M572.8 129.2H575M572.8 131.8H574.4M572.8 134.4H575" stroke="#9aa0a6" stroke-width="0.6"/><circle cx="576.7" cy="168.8" r="11.6" fill="#fafefe" stroke="#cdeff0" stroke-width="1.2"/><path d="M576.8 163 Q580.6 168.6 580.4 170.6 A3.6 3.6 0 0 1 573.2 170.6 Q573 168.6 576.8 163Z" fill="#2da3ea"/><clipPath id="sunclip"><rect x="555" y="340" width="22.2" height="40"/></clipPath><polygon points="583.14,359.82 580.24,361.20 581.99,363.90 578.79,364.21 579.52,367.34 576.41,366.53 576.01,369.72 573.37,367.90 571.91,370.77 570.04,368.15 567.69,370.34 566.83,367.25 563.88,368.50 564.13,365.30 560.92,365.47 562.25,362.55 559.18,361.61 561.43,359.31 558.86,357.38 561.76,356.00 560.01,353.30 563.21,352.99 562.48,349.86 565.59,350.67 565.99,347.48 568.63,349.30 570.09,346.43 571.96,349.05 574.31,346.86 575.17,349.95 578.12,348.70 577.87,351.90 581.08,351.73 579.75,354.65 582.82,355.59 580.57,357.89" fill="url(#sung)" clip-path="url(#sunclip)"/><path d="M573.4 367.2 Q568.8 366.4 569.2 361.6 Q569.8 358 573.8 357.4 Q574.6 350.6 581 350 Q585.2 349.8 587.2 353.2 Q591.6 352.4 592.6 356.8 Q594.8 359 594 362.6 Q593 365.6 589.4 365.8 Q586.4 368.2 582.2 367.4 Q577.4 368.4 573.4 367.2Z" fill="url(#cloudg)"/><rect x="573.4" y="382.4" width="5.2" height="21.000000000000057" rx="2.6" fill="#fafefe" stroke="#c9eef0" stroke-width="1"/><circle cx="576" cy="403.40000000000003" r="4.2" fill="#fafefe" stroke="#c9eef0" stroke-width="1"/><circle cx="576" cy="403.40000000000003" r="3.1" fill="#f2566a"/><path d="M572 386H574.2M572 388.6H573.6M572 391.2H574.2M572 393.8H573.6M572 396.4H574.2" stroke="#9aa0a6" stroke-width="0.6"/><circle cx="576.4" cy="433.4" r="11.6" fill="#fafefe" stroke="#cdeff0" stroke-width="1.2"/><path d="M576.4 424.95 Q579.65 429.60 579.50 431.00 A3.1 3.1 0 0 1 573.30 431.00 Q573.14 429.60 576.4 424.95Z" fill="#2da3ea"/><path d="M571.6 432.35 Q574.86 437.00 574.70 438.39 A3.1 3.1 0 0 1 568.50 438.39 Q568.35 437.00 571.6 432.35Z" fill="#2da3ea"/><path d="M581.4 432.35 Q584.65 437.00 584.50 438.39 A3.1 3.1 0 0 1 578.30 438.39 Q578.14 437.00 581.4 432.35Z" fill="#2da3ea"/><g opacity="0.995"><g font-family="Liberation Sans, sans-serif" font-size="46.2" fill="#0f960f"><text transform="translate(21.53 59.6) scale(0.803 1)" x="0" y="0">A</text><text transform="translate(48.48 59.6) scale(0.952 1)" x="0" y="0">r</text><text transform="translate(62.64 59.6) scale(0.958 1)" x="0" y="0">d</text><text transform="translate(88.86 59.6) scale(0.948 1)" x="0" y="0">u</text><text transform="translate(114.36 59.6) scale(0.985 1)" x="0" y="0">i</text><text transform="translate(126.02 59.6) scale(0.938 1)" x="0" y="0">n</text><text transform="translate(151.19 59.6) scale(0.986 1)" x="0" y="0">o</text><text transform="translate(21.44 117.7) scale(0.887 1)" x="0" y="0">P</text><text transform="translate(48.79 117.7) scale(0.936 1)" x="0" y="0">l</text><text transform="translate(59.27 117.7) scale(0.830 1)" x="0" y="0">a</text><text transform="translate(85.11 117.7) scale(0.943 1)" x="0" y="0">n</text><text transform="translate(109.58 117.7) scale(1.178 1)" x="0" y="0">t</text><text transform="translate(137.17 117.7) scale(1.010 1)" x="0" y="0">M</text><text transform="translate(176.21 117.7) scale(0.976 1)" x="0" y="0">o</text><text transform="translate(202.35 117.7) scale(0.927 1)" x="0" y="0">n</text><text transform="translate(227.38 117.7) scale(1.010 1)" x="0" y="0">i</text><text transform="translate(237.27 117.7) scale(1.187 1)" x="0" y="0">t</text><text transform="translate(252.50 117.7) scale(0.954 1)" x="0" y="0">o</text><text transform="translate(278.22 117.7) scale(0.970 1)" x="0" y="0">r</text></g></g><g opacity="0.995"><rect x="151.5" y="171.5" width="104" height="84" fill="#fff" stroke="#000" stroke-width="1.25"/><rect x="157.9" y="182.9" width="89.8" height="18.9" fill="#1d3fb1"/><path d="M160.8 186.4H175V195H171.6L168.4 198.4V195H160.8Z" fill="none" stroke="#fff" stroke-width="1.55" stroke-linejoin="round"/><text x="178.6" y="196" font-family="Liberation Sans, sans-serif" font-weight="bold" font-size="11.6" fill="#fff" textLength="67.6" lengthAdjust="spacingAndGlyphs">ThingSpeak</text><path d="M164.8 210.01000000000002 A9.5 3.61 0 0 1 183.8 210.01000000000002 V226.79 A9.5 3.61 0 0 1 164.8 226.79Z" fill="#4b4b4b"/><path d="M164.5 215.60 A9.5 3.61 0 0 0 184.10000000000002 215.60" fill="none" stroke="#fff" stroke-width="1.5"/><path d="M164.5 221.20 A9.5 3.61 0 0 0 184.10000000000002 221.20" fill="none" stroke="#fff" stroke-width="1.5"/><path d="M176.6 216.496 A9.2 3.4959999999999996 0 0 1 195.0 216.496 V233.504 A9.2 3.4959999999999996 0 0 1 176.6 233.504Z" fill="#4b4b4b"/><path d="M176.29999999999998 222.17 A9.2 3.4959999999999996 0 0 0 195.3 222.17" fill="none" stroke="#fff" stroke-width="1.5"/><path d="M176.29999999999998 227.83 A9.2 3.4959999999999996 0 0 0 195.3 227.83" fill="none" stroke="#fff" stroke-width="1.5"/><path d="M161 222.124 A9.8 3.724 0 0 1 180.6 222.124 V239.67600000000002 A9.8 3.724 0 0 1 161 239.67600000000002Z" fill="#2b9ff2"/><path d="M160.7 227.97 A9.8 3.724 0 0 0 180.9 227.97" fill="none" stroke="#fff" stroke-width="1.5"/><path d="M160.7 233.83 A9.8 3.724 0 0 0 180.9 233.83" fill="none" stroke="#fff" stroke-width="1.5"/><text x="181" y="247.2" font-family="Liberation Sans, sans-serif" font-weight="bold" font-size="10" fill="#2b9ff2" textLength="28" lengthAdjust="spacingAndGlyphs">MySQL</text><text x="218.2" y="213.2" font-family="Liberation Sans, sans-serif" font-weight="bold" font-size="7.2" fill="#000" stroke="#000" stroke-width="0.45" textLength="22.4" lengthAdjust="spacing">HTML</text><path d="M216 215.8H243L240.5 243.4L229.5 246.5L218.5 243.4Z" fill="#e44d26"/><path d="M229.5 218V244.2L238.4 241.7L240.5 218Z" fill="#f16529"/><path d="M221.4 221.4H237.6L237.3 224.8H225.2L225.5 228.2H237L236.1 238.4L229.5 240.3L222.9 238.4L222.5 233.4H225.8L226 235.8L229.5 236.8L233 235.8L233.4 231.6H222.3Z" fill="#fff"/></g><path d="M104.41 288.24 A17.4 17.4 0 0 1 120.58 304.69" fill="none" stroke="#000" stroke-width="8.2" stroke-linecap="round"/><path d="M105.61 271.08 A34.6 34.6 0 0 1 137.75 303.79" fill="none" stroke="#000" stroke-width="8.2" stroke-linecap="round"/><path d="M106.84 253.53 A52.2 52.2 0 0 1 155.33 302.87" fill="none" stroke="#000" stroke-width="8.2" stroke-linecap="round"/><circle cx="100.8" cy="306.6" r="8.1" fill="#000"/><path d="M285.42 304.69 A17.4 17.4 0 0 1 301.59 288.24" fill="none" stroke="#000" stroke-width="8.2" stroke-linecap="round"/><path d="M268.25 303.79 A34.6 34.6 0 0 1 300.39 271.08" fill="none" stroke="#000" stroke-width="8.2" stroke-linecap="round"/><path d="M250.67 302.87 A52.2 52.2 0 0 1 299.16 253.53" fill="none" stroke="#000" stroke-width="8.2" stroke-linecap="round"/><circle cx="305.1" cy="307.6" r="8.1" fill="#000"/><rect x="18.5" y="325.5" width="166.0" height="75.0" rx="1.5" fill="#fdfdfd" stroke="#101010" stroke-width="1.2"/><g filter="url(#soft)"><rect x="19.2" y="326.2" width="164.6" height="5.4" fill="#f0f0f0"/><rect x="35.8" y="328.1" width="7.4" height="1.3" fill="#8c8c8c"/><rect x="77.3" y="328.1" width="7.4" height="1.3" fill="#8c8c8c"/><rect x="118.7" y="328.1" width="7.4" height="1.3" fill="#8c8c8c"/><rect x="160.4" y="328.1" width="7.4" height="1.3" fill="#8c8c8c"/><rect x="63.2" y="327.3" width="6.4" height="3" rx="0.6" fill="#fbfbfb"/><rect x="64.8" y="328.4" width="3.2" height="0.9" fill="#a0a0a0"/><rect x="104.3" y="327.3" width="6.4" height="3" rx="0.6" fill="#fbfbfb"/><rect x="105.89999999999999" y="328.4" width="3.2" height="0.9" fill="#a0a0a0"/><rect x="145.8" y="327.3" width="6.4" height="3" rx="0.6" fill="#fbfbfb"/><rect x="147.4" y="328.4" width="3.2" height="0.9" fill="#a0a0a0"/><ellipse cx="23.4" cy="335.8" rx="4.3" ry="3.2" fill="#6b3f14"/><rect x="19.4" y="334.6" width="8" height="1.2" fill="#a8762c"/><rect x="30.2" y="333.20" width="5" height="1.1" fill="#6a6a6a"/><rect x="30.2" y="336.40" width="8.6" height="1.1" fill="#7f96ee"/><rect x="41.4" y="336.40" width="8.4" height="1.1" fill="#b9c8b4"/><rect x="56.6" y="334.20" width="0.9" height="1.6" fill="#c6d2ea"/><circle cx="23.4" cy="344.90" r="4" fill="#4f7a3a"/><circle cx="23.4" cy="344.90" r="2.7" fill="#a884cc"/><rect x="30.2" y="342.30" width="8" height="1.1" fill="#6a6a6a"/><rect x="30.2" y="345.50" width="8.6" height="1.1" fill="#7f96ee"/><rect x="41.4" y="345.50" width="8.4" height="1.1" fill="#b9c8b4"/><rect x="56.6" y="343.30" width="0.9" height="1.6" fill="#c6d2ea"/><circle cx="23.4" cy="353.50" r="4" fill="#2f8a2a"/><circle cx="23.4" cy="353.50" r="2.7" fill="#c8281e"/><rect x="30.2" y="350.90" width="11" height="1.1" fill="#6a6a6a"/><rect x="30.2" y="354.10" width="8.6" height="1.1" fill="#7f96ee"/><rect x="41.4" y="354.10" width="8.4" height="1.1" fill="#b9c8b4"/><rect x="56.6" y="351.90" width="0.9" height="1.6" fill="#c6d2ea"/><circle cx="23.4" cy="362.00" r="4" fill="#5a7ab0"/><circle cx="23.4" cy="362.00" r="2.7" fill="#9a7ad0"/><rect x="30.2" y="359.40" width="7" height="1.1" fill="#6a6a6a"/><rect x="30.2" y="362.60" width="8.6" height="1.1" fill="#7f96ee"/><rect x="41.4" y="362.60" width="8.4" height="1.1" fill="#b9c8b4"/><rect x="56.6" y="360.40" width="0.9" height="1.6" fill="#c6d2ea"/><circle cx="23.4" cy="370.90" r="4" fill="#3a6a3a"/><circle cx="23.4" cy="370.90" r="2.7" fill="#4060c8"/><rect x="30.2" y="368.30" width="5.4" height="1.1" fill="#6a6a6a"/><rect x="30.2" y="371.50" width="8.6" height="1.1" fill="#7f96ee"/><rect x="41.4" y="371.50" width="8.4" height="1.1" fill="#b9c8b4"/><rect x="56.6" y="369.30" width="0.9" height="1.6" fill="#c6d2ea"/><circle cx="23.4" cy="380.00" r="4" fill="#3a7a3a"/><circle cx="23.4" cy="380.00" r="2.7" fill="#9a5aa8"/><rect x="30.2" y="377.40" width="7" height="1.1" fill="#6a6a6a"/><rect x="30.2" y="380.60" width="8.6" height="1.1" fill="#7f96ee"/><rect x="41.4" y="380.60" width="8.4" height="1.1" fill="#b9c8b4"/><rect x="56.6" y="378.40" width="0.9" height="1.6" fill="#c6d2ea"/><circle cx="23.4" cy="388.50" r="4" fill="#2a8a2a"/><circle cx="23.4" cy="388.50" r="2.7" fill="#4fc05a"/><rect x="30.2" y="385.90" width="5" height="1.1" fill="#6a6a6a"/><rect x="30.2" y="389.10" width="8.6" height="1.1" fill="#7f96ee"/><rect x="41.4" y="389.10" width="8.4" height="1.1" fill="#b9c8b4"/><rect x="56.6" y="386.90" width="0.9" height="1.6" fill="#c6d2ea"/><path d="M19.4 399.7 Q19.6 394.3 23.4 394.1 Q27.2 394.3 27.4 399.7Z" fill="#b07020"/><rect x="30.2" y="394.70" width="9" height="1.1" fill="#6a6a6a"/><rect x="60.800000000000004" y="332.1" width="39.89999999999999" height="17" fill="#fff"/><path d="M61.400000000000006 338.5 L72.2 335.5 L96.3 333.1 L100.5 334.70000000000005 L100.5 344.90000000000003 L80.2 348.3 L66.2 347.70000000000005 L61.400000000000006 345.70000000000005Z" fill="#5c3c16"/><path d="M72.2 336.70000000000005 L97.3 334.70000000000005 L100.3 336.70000000000005 L74.2 339.1Z" fill="#8a6226"/><path d="M76.2 341.5 L100.3 339.1 L100.3 341.5 L77.2 344.1Z" fill="#7a5520"/><path d="M61.400000000000006 338.5 L72.2 335.5 L78.2 340.1 L79.2 348.1 L66.2 347.70000000000005 L61.400000000000006 345.70000000000005Z" fill="#2e1e0c"/><circle cx="63.6" cy="339.7" r="1.1" fill="#e8b71c"/><circle cx="66.6" cy="338.5" r="1.1" fill="#e8b71c"/><circle cx="69.6" cy="337.7" r="1.1" fill="#e8b71c"/><circle cx="72.6" cy="337.5" r="1.1" fill="#e8b71c"/><circle cx="65.0" cy="342.1" r="1.1" fill="#e8b71c"/><circle cx="68.2" cy="341.3" r="1.1" fill="#e8b71c"/><circle cx="71.2" cy="340.7" r="1.1" fill="#e8b71c"/><circle cx="74.6" cy="340.7" r="1.1" fill="#e8b71c"/><circle cx="64.6" cy="344.7" r="1.1" fill="#e8b71c"/><circle cx="68.0" cy="344.3" r="1.1" fill="#e8b71c"/><circle cx="71.2" cy="343.7" r="1.1" fill="#e8b71c"/><circle cx="74.4" cy="343.7" r="1.1" fill="#e8b71c"/><circle cx="77.0" cy="342.5" r="1.1" fill="#e8b71c"/><circle cx="77.2" cy="345.5" r="1.1" fill="#e8b71c"/><circle cx="67.6" cy="346.7" r="1.1" fill="#e8b71c"/><circle cx="71.6" cy="346.5" r="1.1" fill="#e8b71c"/><circle cx="75.0" cy="346.3" r="1.1" fill="#e8b71c"/><rect x="143.4" y="332.1" width="40.8" height="17" fill="#fff"/><path d="M144.0 338.5 L154.8 335.5 L179.8 333.1 L184.0 334.70000000000005 L184.0 344.90000000000003 L162.8 348.3 L148.8 347.70000000000005 L144.0 345.70000000000005Z" fill="#5c3c16"/><path d="M154.8 336.70000000000005 L180.8 334.70000000000005 L183.8 336.70000000000005 L156.8 339.1Z" fill="#8a6226"/><path d="M158.8 341.5 L183.8 339.1 L183.8 341.5 L159.8 344.1Z" fill="#7a5520"/><path d="M144.0 338.5 L154.8 335.5 L160.8 340.1 L161.8 348.1 L148.8 347.70000000000005 L144.0 345.70000000000005Z" fill="#2e1e0c"/><circle cx="146.2" cy="339.7" r="1.1" fill="#e8b71c"/><circle cx="149.2" cy="338.5" r="1.1" fill="#e8b71c"/><circle cx="152.2" cy="337.7" r="1.1" fill="#e8b71c"/><circle cx="155.2" cy="337.5" r="1.1" fill="#e8b71c"/><circle cx="147.6" cy="342.1" r="1.1" fill="#e8b71c"/><circle cx="150.8" cy="341.3" r="1.1" fill="#e8b71c"/><circle cx="153.8" cy="340.7" r="1.1" fill="#e8b71c"/><circle cx="157.2" cy="340.7" r="1.1" fill="#e8b71c"/><circle cx="147.2" cy="344.7" r="1.1" fill="#e8b71c"/><circle cx="150.6" cy="344.3" r="1.1" fill="#e8b71c"/><circle cx="153.8" cy="343.7" r="1.1" fill="#e8b71c"/><circle cx="157.0" cy="343.7" r="1.1" fill="#e8b71c"/><circle cx="159.6" cy="342.5" r="1.1" fill="#e8b71c"/><circle cx="159.8" cy="345.5" r="1.1" fill="#e8b71c"/><circle cx="150.2" cy="346.7" r="1.1" fill="#e8b71c"/><circle cx="154.2" cy="346.5" r="1.1" fill="#e8b71c"/><circle cx="157.6" cy="346.3" r="1.1" fill="#e8b71c"/><rect x="60.8" y="347.7" width="40" height="46.2" fill="url(#pg)"/><path d="M63 392.5 Q62 373.5 69 365.5 Q76 361.5 79 375.5 Q82 385.5 76 392.9Z" fill="#c9dcbc" opacity="0.7"/><circle cx="66.9" cy="357.5" r="4.1" fill="#fff" opacity="0.8"/><path d="M64.26 359.48 A3.3 3.3 0 1 1 69.54 359.48" fill="none" stroke="#e8d21a" stroke-width="1.1"/><circle cx="80.6" cy="357.5" r="4.1" fill="#fff" opacity="0.8"/><path d="M77.96 359.48 A3.3 3.3 0 1 1 83.24 359.48" fill="none" stroke="#a43cc0" stroke-width="1.1"/><circle cx="93.3" cy="357.5" r="4.1" fill="#fff" opacity="0.8"/><path d="M90.66 359.48 A3.3 3.3 0 1 1 95.94 359.48" fill="none" stroke="#3c50e0" stroke-width="1.1"/><rect x="65.5" y="357.1" width="2.8" height="1" fill="#b0a0b8"/><rect x="65.9" y="361.9" width="2" height="0.9" fill="#c0b8b0"/><rect x="79.19999999999999" y="357.1" width="2.8" height="1" fill="#b0a0b8"/><rect x="79.6" y="361.9" width="2" height="0.9" fill="#c0b8b0"/><rect x="91.89999999999999" y="357.1" width="2.8" height="1" fill="#b0a0b8"/><rect x="92.3" y="361.9" width="2" height="0.9" fill="#c0b8b0"/><circle cx="81.4" cy="379.1" r="8.0" fill="#fff" opacity="0.8"/><path d="M75.64 383.42 A7.2 7.2 0 1 1 87.16 383.42" fill="none" stroke="#62e428" stroke-width="1.4"/><rect x="79" y="378.1" width="4.8" height="2" fill="#8fe468"/><path d="M79.6 388.5 L84 384.5 M80 384.7 L84 388.3" stroke="#6cc848" stroke-width="0.9"/><rect x="60.800000000000004" y="393.7" width="39.89999999999999" height="6" fill="#f8f8f8"/><rect x="62.6" y="394.5" width="5" height="1.2" fill="#909090"/><rect x="63.6" y="397.5" width="3.2" height="1.1" fill="#f08a8a"/><rect x="70.8" y="394.5" width="5" height="1.2" fill="#909090"/><rect x="71.8" y="397.5" width="3.2" height="1.1" fill="#f08a8a"/><rect x="79.0" y="394.5" width="5" height="1.2" fill="#909090"/><rect x="80.0" y="397.5" width="3.2" height="1.1" fill="#f08a8a"/><rect x="86.4" y="394.40000000000003" width="4.8" height="4.8" rx="0.6" fill="#3fc44c"/><path d="M87.30000000000001 398.1 L90.30000000000001 395.40000000000003" stroke="#eafbe8" stroke-width="0.8"/><circle cx="97.6" cy="396.90000000000003" r="2.6" fill="#2fc43c"/><circle cx="97.6" cy="396.90000000000003" r="0.9" fill="#eafbe8"/><rect x="101.89999999999999" y="393.7" width="40.30000000000001" height="6" fill="#f8f8f8"/><rect x="103.7" y="394.5" width="5" height="1.2" fill="#909090"/><rect x="104.7" y="397.5" width="3.2" height="1.1" fill="#f08a8a"/><rect x="111.9" y="394.5" width="5" height="1.2" fill="#909090"/><rect x="112.9" y="397.5" width="3.2" height="1.1" fill="#f08a8a"/><rect x="120.1" y="394.5" width="5" height="1.2" fill="#909090"/><rect x="121.1" y="397.5" width="3.2" height="1.1" fill="#f08a8a"/><path d="M126.89999999999999 396.90000000000003 L129.7 393.90000000000003 L132.5 396.90000000000003 L131.89999999999998 396.90000000000003 L131.89999999999998 399.5 L127.49999999999999 399.5 L127.49999999999999 396.90000000000003Z" fill="#1cb02a"/><circle cx="138.9" cy="396.90000000000003" r="2.6" fill="#2fc43c"/><circle cx="138.9" cy="396.90000000000003" r="0.9" fill="#eafbe8"/><rect x="143.4" y="393.7" width="40.8" height="6" fill="#f8f8f8"/><rect x="145.2" y="394.5" width="5" height="1.2" fill="#909090"/><rect x="146.2" y="397.5" width="3.2" height="1.1" fill="#f08a8a"/><rect x="153.4" y="394.5" width="5" height="1.2" fill="#909090"/><rect x="154.4" y="397.5" width="3.2" height="1.1" fill="#f08a8a"/><rect x="161.6" y="394.5" width="5" height="1.2" fill="#909090"/><rect x="162.6" y="397.5" width="3.2" height="1.1" fill="#f08a8a"/><rect x="169.0" y="394.40000000000003" width="4.8" height="4.8" rx="0.6" fill="#3fc44c"/><path d="M169.9 398.1 L172.9 395.40000000000003" stroke="#eafbe8" stroke-width="0.8"/><path d="M177.8 396.90000000000003 L180.60000000000002 393.90000000000003 L183.40000000000003 396.90000000000003 L182.8 396.90000000000003 L182.8 399.5 L178.40000000000003 399.5 L178.40000000000003 396.90000000000003Z" fill="#1cb02a"/><rect x="116.6" y="335.8" width="10.4" height="1.1" fill="#8aa0c4"/><rect x="104.2" y="338.4" width="0.7" height="7.6" fill="#7a9ad8"/><polyline points="106.6,341.0 109.2,340.3 111.8,341.9 114.4,340.6 116.9,340.1 119.5,341.9 122.1,344.6 124.7,344.0 127.3,343.8 129.9,341.8 132.4,342.5 135.0,341.9 137.6,341.7 140.2,341.6" fill="none" stroke="#f0645c" stroke-width="0.8"/><rect x="112" y="347.0" width="26" height="0.8" fill="#cdd0d4"/><rect x="121.6" y="349.0" width="3.4" height="1.1" fill="#7a9ad8"/><rect x="134" y="350.6" width="7" height="0.9" fill="#f0a09a"/><rect x="102.2" y="352.8" width="39.8" height="0.4" fill="#e0e0e0"/><rect x="116.6" y="355.2" width="10.4" height="1.1" fill="#8aa0c4"/><rect x="104.2" y="357.8" width="0.7" height="7.6" fill="#7a9ad8"/><polyline points="106.6,360.2 109.2,364.2 111.8,363.6 114.4,363.5 116.9,363.5 119.5,360.1 122.1,360.7 124.7,362.5 127.3,363.1 129.9,362.6 132.4,362.7 135.0,360.9 137.6,362.0 140.2,362.2" fill="none" stroke="#f0645c" stroke-width="0.8"/><rect x="112" y="366.4" width="26" height="0.8" fill="#cdd0d4"/><rect x="121.6" y="368.4" width="3.4" height="1.1" fill="#7a9ad8"/><rect x="134" y="370.0" width="7" height="0.9" fill="#f0a09a"/><rect x="102.2" y="372.2" width="39.8" height="0.4" fill="#e0e0e0"/><rect x="116.6" y="374.4" width="10.4" height="1.1" fill="#8aa0c4"/><rect x="104.2" y="377.0" width="0.7" height="7.6" fill="#7a9ad8"/><polyline points="106.6,381.0 109.2,379.6 111.8,380.9 114.4,379.2 116.9,382.9 119.5,382.6 122.1,381.2 124.7,380.1 127.3,382.8 129.9,381.1 132.4,381.7 135.0,381.6 137.6,381.0 140.2,380.8" fill="none" stroke="#f0645c" stroke-width="0.8"/><rect x="112" y="385.6" width="26" height="0.8" fill="#cdd0d4"/><rect x="121.6" y="387.2" width="3.4" height="1" fill="#7a9ad8"/><rect x="134" y="388.6" width="7" height="0.8" fill="#f0a09a"/><rect x="145" y="351.2" width="17" height="1.1" fill="#686868"/><rect x="145" y="355.2" width="9" height="1.1" fill="#686868"/><rect x="145" y="359.2" width="9.6" height="1.1" fill="#686868"/><rect x="145" y="363.1" width="9.6" height="1.1" fill="#686868"/><rect x="145" y="367.1" width="10.4" height="1.1" fill="#686868"/><rect x="145" y="371.1" width="7" height="1.1" fill="#686868"/><rect x="145" y="375.1" width="16" height="1.1" fill="#686868"/><rect x="145" y="379.1" width="18.4" height="1.1" fill="#686868"/><rect x="145" y="383.0" width="10.4" height="1.1" fill="#686868"/><rect x="145" y="387.2" width="24" height="0.9" fill="#7a7a7a"/><rect x="145" y="389.2" width="33" height="0.9" fill="#7a7a7a"/><rect x="145" y="391.2" width="34" height="0.9" fill="#7a7a7a"/><rect x="59.6" y="326.2" width="1.2" height="73.6" fill="#c4c4c4"/><rect x="100.7" y="326.2" width="1.2" height="73.6" fill="#c4c4c4"/><rect x="142.20000000000002" y="326.2" width="1.2" height="73.6" fill="#c4c4c4"/></g><rect x="18.5" y="325.5" width="166.0" height="75.0" rx="1.6" fill="none" stroke="#101010" stroke-width="1.25"/><rect x="230.5" y="326.5" width="121" height="134" fill="#fff" stroke="#000" stroke-width="1.25"/><path d="M241.4 346.4 Q241.4 345.2 242.6 345.2 L291 345.2 L294 348 L294 410 L291.6 412.4 L291.6 413.8 L242.6 413.8 Q241.4 413.8 241.4 412.6Z" fill="#1451b4"/><path d="M263 372 L289 372 L289 411 L263 411Z" fill="#1a62cc" opacity="0.75"/><rect x="241.8" y="376" width="2.6" height="34.6" fill="#15181e"/><rect x="290.4" y="360" width="2.9" height="51" fill="#15181e"/><path d="M247.6 377V410" stroke="#9ec0f2" stroke-width="4.2" stroke-dasharray="1.3 1.6" opacity="0.75"/><path d="M287.8 371V410" stroke="#9ec0f2" stroke-width="3.8" stroke-dasharray="1.3 1.6" opacity="0.7"/><path d="M243.1 376.6V410.4" stroke="#5a5f6a" stroke-width="1" stroke-dasharray="0.9 1.3"/><path d="M291.9 360.6V410.6" stroke="#5a5f6a" stroke-width="1" stroke-dasharray="0.9 1.3"/><path d="M242 345.8H291" stroke="#3d7ee0" stroke-width="1.1"/><rect x="255.6" y="346.6" width="5" height="1.8" fill="#e8ecf2"/><path d="M264 376 V398" stroke="#8db4ee" stroke-width="1" stroke-dasharray="1 2" opacity="0.8"/><rect x="266.6" y="392" width="12" height="10" fill="#1a5cc8" opacity="0.6"/><rect x="273.8" y="338" width="12.4" height="16.8" rx="0.6" fill="#5f5047"/><rect x="275" y="339.2" width="10" height="13" fill="#6f5f55"/><rect x="244" y="342.4" width="8.8" height="14.8" rx="0.8" fill="#16181c"/><rect x="245.6" y="343.2" width="5.6" height="3" fill="#34373c"/><circle cx="249.8" cy="363.6" r="3.4" fill="#d9dce0"/><circle cx="249.8" cy="363.6" r="2.2" fill="#f4f5f6"/><path d="M247.6 361.20000000000005 A3.4 3.4 0 0 1 252 361.20000000000005Z" fill="#3a3d44"/><circle cx="249.8" cy="370.8" r="3.4" fill="#d9dce0"/><circle cx="249.8" cy="370.8" r="2.2" fill="#f4f5f6"/><path d="M247.6 368.40000000000003 A3.4 3.4 0 0 1 252 368.40000000000003Z" fill="#3a3d44"/><rect x="252" y="374.6" width="10.2" height="34.6" fill="#1a1c20"/><rect x="254" y="376" width="6" height="31.6" fill="#2b2e34"/><rect x="255.6" y="348.2" width="5" height="4.4" fill="#15181e"/><rect x="256.2" y="354" width="4.4" height="3.4" fill="#15181e"/><rect x="265" y="358.6" width="3.4" height="9.4" rx="1" fill="#8a8e96"/><rect x="272.8" y="362" width="5.4" height="5.4" fill="#23262c"/><rect x="279.4" y="361.4" width="3.4" height="6" fill="#9fb6dc"/><rect x="285" y="359.4" width="4.4" height="9.4" fill="#15181e"/><circle cx="291.2" cy="351.4" r="2.1" fill="#c4563c"/><rect x="288.6" y="348.6" width="5" height="5.6" rx="0.8" fill="#c8ccd4" opacity="0.55"/><circle cx="291.6" cy="360.6" r="1.7" fill="#eef2f8"/><circle cx="243.2" cy="359.6" r="1.5" fill="#dfe6f0"/><circle cx="248.2" cy="411.4" r="1.6" fill="#eef2f8"/><circle cx="276.4" cy="411.6" r="1.6" fill="#eef2f8"/><rect x="265" y="349.4" width="1.6" height="2.2" fill="#e0a43c"/><rect x="268" y="349.4" width="1.6" height="2.2" fill="#e0a43c"/><rect x="272" y="349" width="2" height="3" fill="#d8dce4"/><rect x="259" y="361.4" width="2.4" height="4.4" fill="#23262c"/><rect x="265.4" y="408" width="6.6" height="4" fill="#15181e"/><rect x="266.6" y="404.4" width="4.4" height="1.8" fill="#15181e"/><rect x="268" y="371.6" width="1.6" height="4.6" fill="#9cb8e8" opacity="0.8"/><rect x="271.4" y="371.6" width="1.6" height="4.6" fill="#9cb8e8" opacity="0.8"/><rect x="274.8" y="371.6" width="1.6" height="4.6" fill="#9cb8e8" opacity="0.8"/><rect x="278.2" y="371.6" width="1.6" height="4.6" fill="#9cb8e8" opacity="0.8"/><rect x="281.6" y="371.6" width="1.6" height="4.6" fill="#9cb8e8" opacity="0.8"/><rect x="285" y="371.6" width="1.6" height="4.6" fill="#9cb8e8" opacity="0.8"/><rect x="284" y="391" width="2.4" height="16" fill="#9cb8e8" opacity="0.65"/><rect x="274.4" y="378.6" width="1.3" height="9.6" fill="#dfe8f8" opacity="0.8"/><circle cx="280" cy="380.4" r="2.6" fill="none" stroke="#f2f6fc" stroke-width="1.2"/><circle cx="280" cy="386.4" r="2.6" fill="none" stroke="#f2f6fc" stroke-width="1.2"/><rect x="308.2" y="344.4" width="32.8" height="50" rx="3.2" fill="#0f3488"/><rect x="309.4" y="345.6" width="30.4" height="47.6" rx="2.4" fill="#133c96"/><rect x="316.6" y="358.2" width="16.2" height="20.4" fill="#8b8c8a"/><rect x="317.6" y="359.2" width="14.2" height="18.4" fill="#9a9b98"/><rect x="321.6" y="362.6" width="1.2" height="11" fill="#b9bab6"/><rect x="325.6" y="361.6" width="1.3" height="12" fill="#c6c7c3"/><rect x="323.4" y="366" width="1" height="7" fill="#b9bab6"/><circle cx="311.4" cy="361.4" r="2" fill="#0b0f1c"/><circle cx="337.9" cy="361.4" r="2" fill="#0b0f1c"/><circle cx="314.6" cy="350" r="1.9" fill="#0c1f5a"/><rect x="329.8" y="348.8" width="9" height="1.5" fill="#e6ecf8"/><rect x="322.4" y="348.6" width="5.6" height="2" fill="#8aa6dc"/><rect x="313" y="346.2" width="22" height="1.2" fill="#5f84cc" opacity="0.8"/><polygon points="337.40,352.00 338.05,353.71 339.87,353.80 338.45,354.94 338.93,356.70 337.40,355.70 335.87,356.70 336.35,354.94 334.93,353.80 336.75,353.71" fill="#f0f4fc"/><rect x="312.4" y="381" width="5.8" height="6.8" fill="#10141e"/><rect x="324.6" y="381" width="11.2" height="6.4" fill="#10141e"/><rect x="319.4" y="381.6" width="3" height="1.6" fill="#c8d4ec"/><rect x="319.4" y="385" width="3" height="1.6" fill="#c8d4ec"/><rect x="311.4" y="365" width="1.2" height="12" fill="#0c1f5a"/><rect x="313.4" y="365.6" width="1.4" height="9" fill="#6f92d8" opacity="0.8"/><rect x="335.4" y="366" width="1.4" height="10" fill="#6f92d8" opacity="0.8"/><rect x="312" y="389.4" width="25" height="1.4" fill="#7f9ede" opacity="0.8"/><rect x="311.6" y="376.6" width="2.2" height="1.6" fill="#e6ecf8"/><rect x="253.40" y="442.60" width="1.7" height="8.8" fill="#c9c8c0"/><rect x="253.40" y="442.60" width="1.7" height="2.6" fill="#8e8d86"/><rect x="257.82" y="440.62" width="1.7" height="8.8" fill="#c9c8c0"/><rect x="257.82" y="440.62" width="1.7" height="2.6" fill="#8e8d86"/><rect x="262.24" y="438.64" width="1.7" height="8.8" fill="#c9c8c0"/><rect x="262.24" y="438.64" width="1.7" height="2.6" fill="#8e8d86"/><rect x="266.66" y="436.66" width="1.7" height="8.8" fill="#c9c8c0"/><rect x="266.66" y="436.66" width="1.7" height="2.6" fill="#8e8d86"/><rect x="271.08" y="434.68" width="1.7" height="8.8" fill="#c9c8c0"/><rect x="271.08" y="434.68" width="1.7" height="2.6" fill="#8e8d86"/><rect x="275.50" y="432.70" width="1.7" height="8.8" fill="#c9c8c0"/><rect x="275.50" y="432.70" width="1.7" height="2.6" fill="#8e8d86"/><rect x="279.92" y="430.72" width="1.7" height="8.8" fill="#c9c8c0"/><rect x="279.92" y="430.72" width="1.7" height="2.6" fill="#8e8d86"/><rect x="284.34" y="428.74" width="1.7" height="8.8" fill="#c9c8c0"/><rect x="284.34" y="428.74" width="1.7" height="2.6" fill="#8e8d86"/><path d="M246.2 432.4 L280.2 420.4 L286.2 428.4 L286.2 431.6 L252.8 444.6 L246.2 436.2Z" fill="#17171a"/><path d="M246.2 432.4 L280.2 420.4 L286.2 428.4 L252.8 441.2Z" fill="#222226"/><path d="M256 432.6 L276 425.4" stroke="#3a3a3e" stroke-width="1.6"/><circle cx="250.4" cy="436" r="1" fill="#0c0c0e"/><rect x="304.30" y="442.60" width="1.7" height="8.8" fill="#c9c8c0"/><rect x="304.30" y="442.60" width="1.7" height="2.6" fill="#8e8d86"/><rect x="308.72" y="440.62" width="1.7" height="8.8" fill="#c9c8c0"/><rect x="308.72" y="440.62" width="1.7" height="2.6" fill="#8e8d86"/><rect x="313.14" y="438.64" width="1.7" height="8.8" fill="#c9c8c0"/><rect x="313.14" y="438.64" width="1.7" height="2.6" fill="#8e8d86"/><rect x="317.56" y="436.66" width="1.7" height="8.8" fill="#c9c8c0"/><rect x="317.56" y="436.66" width="1.7" height="2.6" fill="#8e8d86"/><rect x="321.98" y="434.68" width="1.7" height="8.8" fill="#c9c8c0"/><rect x="321.98" y="434.68" width="1.7" height="2.6" fill="#8e8d86"/><rect x="326.40" y="432.70" width="1.7" height="8.8" fill="#c9c8c0"/><rect x="326.40" y="432.70" width="1.7" height="2.6" fill="#8e8d86"/><rect x="330.82" y="430.72" width="1.7" height="8.8" fill="#c9c8c0"/><rect x="330.82" y="430.72" width="1.7" height="2.6" fill="#8e8d86"/><rect x="335.24" y="428.74" width="1.7" height="8.8" fill="#c9c8c0"/><rect x="335.24" y="428.74" width="1.7" height="2.6" fill="#8e8d86"/><path d="M297.09999999999997 432.4 L331.09999999999997 420.4 L337.09999999999997 428.4 L337.09999999999997 431.6 L303.7 444.6 L297.09999999999997 436.2Z" fill="#17171a"/><path d="M297.09999999999997 432.4 L331.09999999999997 420.4 L337.09999999999997 428.4 L303.7 441.2Z" fill="#222226"/><path d="M306.9 432.6 L326.9 425.4" stroke="#3a3a3e" stroke-width="1.6"/><circle cx="301.3" cy="436" r="1" fill="#0c0c0e"/></svg></body></html>
